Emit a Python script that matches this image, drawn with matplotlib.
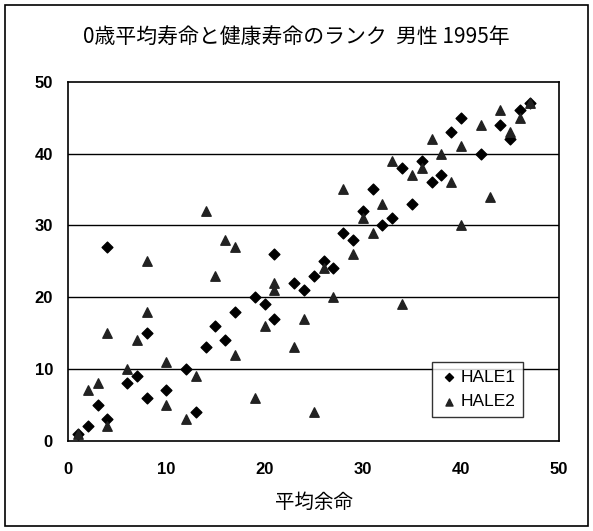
import matplotlib.pyplot as plt
from matplotlib.patches import Rectangle

plt.rcParams['font.family'] = ['Noto Sans CJK JP', 'DejaVu Sans']

# HALE1 (diamonds): life expectancy rank vs HALE rank
hale1_x = [1, 2, 3, 4, 4, 6, 7, 8, 8, 10, 12, 13, 14, 15, 16, 17, 19, 20, 21, 21,
           23, 24, 25, 26, 27, 28, 29, 30, 31, 32, 33, 34, 35, 36, 37, 38, 39, 40,
           42, 44, 45, 46, 47]
hale1_y = [1, 2, 5, 3, 27, 8, 9, 6, 15, 7, 10, 4, 13, 16, 14, 18, 20, 19, 17, 26,
           22, 21, 23, 25, 24, 29, 28, 32, 35, 30, 31, 38, 33, 39, 36, 37, 43, 45,
           40, 44, 42, 46, 47]

# HALE2 (triangles)
hale2_x = [1, 2, 3, 4, 4, 6, 7, 8, 8, 10, 10, 12, 13, 14, 15, 16, 17, 17, 19, 20,
           21, 21, 23, 24, 25, 26, 27, 28, 29, 30, 31, 32, 33, 34, 35, 36, 37, 38,
           39, 40, 40, 42, 43, 44, 45, 46, 47]
hale2_y = [1, 7, 8, 15, 2, 10, 14, 18, 25, 11, 5, 3, 9, 32, 23, 28, 27, 12, 6, 16,
           22, 21, 13, 17, 4, 24, 20, 35, 26, 31, 29, 33, 39, 19, 37, 38, 42, 40,
           36, 41, 30, 44, 34, 46, 43, 45, 47]

fig = plt.figure(figsize=(5.93, 5.31), dpi=100)
ax = fig.add_axes([0.115, 0.170, 0.828, 0.676])

# outer frame around whole chart
fig.patches.append(Rectangle((0.008, 0.01), 0.984, 0.98, transform=fig.transFigure,
                             fill=False, edgecolor='black', linewidth=1.2))

for v in [10, 20, 30, 40]:
    ax.axhline(v, color='black', linewidth=1.0, zorder=1)

ax.scatter(hale1_x, hale1_y, marker='D', s=30, color='black', label='HALE1', zorder=3)
ax.scatter(hale2_x, hale2_y, marker='^', s=46, color='#222222', label='HALE2', zorder=3)

ax.set_xlim(0, 50)
ax.set_ylim(0, 50)
ax.set_xticks(range(0, 51, 10))
ax.set_yticks(range(0, 51, 10))
ax.tick_params(axis='x', length=0, pad=15, labelsize=12)
ax.tick_params(axis='y', length=0, pad=11, labelsize=12)
for lbl in ax.get_xticklabels() + ax.get_yticklabels():
    lbl.set_fontfamily('Liberation Sans')
    lbl.set_fontweight('bold')
for sp in ax.spines.values():
    sp.set_color('black')
    sp.set_linewidth(1.2)

ax.set_xlabel('平均余命', fontsize=14, labelpad=11)
fig.text(0.5, 0.930, '0歳平均寿命と健康寿命のランク  男性 1995年', ha='center',
         va='center', fontsize=15)

leg = ax.legend(loc='lower left', bbox_to_anchor=(0.741, 0.066), borderaxespad=0,
                frameon=True, fancybox=False, edgecolor='black', markerscale=0.75,
                handletextpad=0.2, borderpad=0.45, labelspacing=0.55,
                handlelength=1.0, prop={'family': 'Liberation Sans', 'size': 12.5})
leg.get_frame().set_linewidth(1.0)

fig.savefig('out.png', dpi=100)
